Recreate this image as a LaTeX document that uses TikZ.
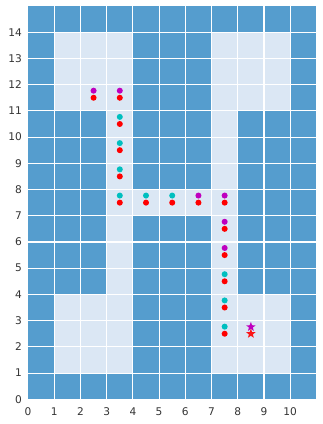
\documentclass[tikz,border=0pt]{standalone}
\usepackage{fontspec}
\setmainfont{DejaVu Sans}
\usetikzlibrary{shapes.geometric}
\definecolor{wall}{HTML}{559DCE}
\definecolor{free}{HTML}{DBE7F4}
\definecolor{cy}{HTML}{00BFBF}
\definecolor{mg}{HTML}{BF00BF}
\definecolor{rd}{HTML}{FF0000}
\definecolor{tickc}{HTML}{333333}
\begin{document}
\begin{tikzpicture}[x=1cm,y=1cm,
  dot/.style={circle,inner sep=0pt,minimum size=0.23cm},
  starmark/.style={star,star points=5,star point ratio=2.4,inner sep=0pt,minimum size=0.38cm},
  ticklab/.style={font=\fontsize{11.5}{13}\selectfont, text=tickc, inner sep=0pt},
  gridline/.style={white, line width=1.2pt}]
\useasboundingbox (-1.069,-0.943) rectangle (11.229,15.229);
\fill[wall] (0,0) rectangle (11,15);
\foreach \y in {1,2,3,11,12,13}{
  \foreach \x in {1,2,3,7,8,9} \fill[free] (\x,\y) rectangle ++(1,1);
}
\foreach \y in {4,5,6,8,9,10}{
  \foreach \x in {3,7} \fill[free] (\x,\y) rectangle ++(1,1);
}
\foreach \x in {3,4,5,6,7} \fill[free] (\x,7) rectangle ++(1,1);
\foreach \i in {1,...,10} \draw[gridline] (\i,0) -- (\i,15);
\foreach \j in {1,...,14} \draw[gridline] (0,\j) -- (11,\j);
% tick labels
\foreach \i in {0,...,10} \node[ticklab] (xt\i) at (\i,-0.485) {\i};
\foreach \j in {0,...,14} \node[ticklab, anchor=east] (yt\j) at (-0.23,\j) {\j};
% upper markers
\foreach \n/\x/\y/\c in {1/2.5/11.5/mg, 2/3.5/11.5/mg, 3/3.5/10.5/cy, 4/3.5/9.5/cy,
  5/3.5/8.5/cy, 6/3.5/7.5/cy, 7/4.5/7.5/cy, 8/5.5/7.5/cy, 9/6.5/7.5/mg,
  10/7.5/7.5/mg, 11/7.5/6.5/mg, 12/7.5/5.5/mg, 13/7.5/4.5/cy, 14/7.5/3.5/cy,
  15/7.5/2.5/cy}
  \node[dot, fill=\c] (u\n) at (\x,\y+0.27) {};
\node[starmark, fill=mg] (ustar) at (8.5,2.76) {};
% red markers
\foreach \n/\x/\y in {1/2.5/11.5, 2/3.5/11.5, 3/3.5/10.5, 4/3.5/9.5,
  5/3.5/8.5, 6/3.5/7.5, 7/4.5/7.5, 8/5.5/7.5, 9/6.5/7.5,
  10/7.5/7.5, 11/7.5/6.5, 12/7.5/5.5, 13/7.5/4.5, 14/7.5/3.5,
  15/7.5/2.5}
  \node[dot, fill=rd] (r\n) at (\x,\y) {};
\node[starmark, fill=rd, opacity=0.9] (rstar) at (8.5,2.5) {};
\end{tikzpicture}
\end{document}
